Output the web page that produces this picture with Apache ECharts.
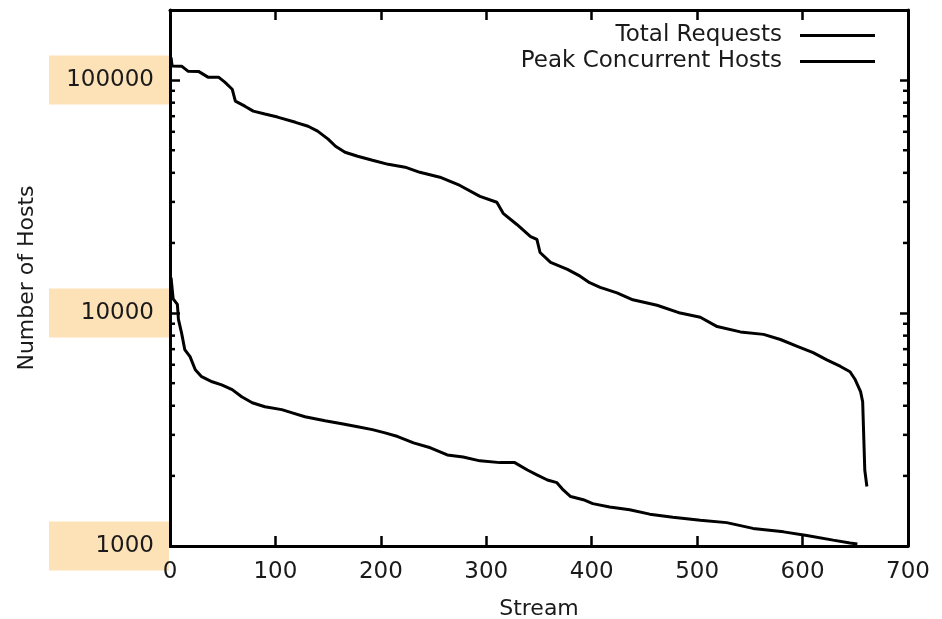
<!DOCTYPE html>
<html>
<head>
<meta charset="utf-8">
<script src="https://cdn.jsdelivr.net/npm/echarts@6/dist/echarts.min.js"></script>
<style>
  html, body { margin: 0; padding: 0; background: #fff; }
  #chart { width: 942px; height: 619px; }
</style>
</head>
<body>
<div id="chart"></div>
<script>
// ---- data ----
const totalStream = [1, 2, 11, 17, 27, 36, 46, 52, 59, 62, 71, 79, 90, 102, 119, 131, 140, 150, 157, 166, 178, 192, 207, 223, 237, 256, 275, 294, 310, 316, 329, 342, 348, 351, 361, 377, 389, 398, 408, 424, 439, 462, 484, 503, 519, 541, 563, 579, 595, 610, 623, 636, 645, 650, 655, 657, 659, 661];
const totalValues = [125000, 115000, 114800, 109300, 109000, 103000, 103000, 98000, 91400, 81200, 77300, 73600, 71500, 69400, 65900, 63400, 60400, 55800, 52000, 49000, 47100, 45300, 43500, 42300, 40200, 38300, 35300, 31700, 29900, 26800, 24000, 21300, 20700, 18200, 16500, 15400, 14400, 13500, 12900, 12200, 11400, 10800, 10000, 9600, 8750, 8300, 8100, 7700, 7200, 6760, 6300, 5900, 5600, 5170, 4600, 4160, 2120, 1800];

const peakStream = [1, 3, 7, 8, 11, 14, 19, 24, 30, 40, 49, 59, 68, 78, 90, 106, 116, 128, 147, 163, 178, 192, 204, 216, 231, 247, 263, 278, 294, 313, 327, 339, 348, 358, 367, 373, 380, 392, 401, 417, 436, 455, 477, 503, 528, 553, 582, 604, 629, 645, 652];
const peakValues = [14200, 11500, 10900, 9400, 8200, 6970, 6500, 5710, 5330, 5070, 4920, 4690, 4370, 4120, 3960, 3850, 3730, 3590, 3450, 3350, 3250, 3160, 3060, 2950, 2770, 2640, 2460, 2410, 2320, 2280, 2280, 2120, 2020, 1920, 1870, 1740, 1630, 1580, 1520, 1470, 1430, 1370, 1330, 1290, 1260, 1190, 1150, 1110, 1060, 1030, 1020];

const seriesNames = ['Total Requests', 'Peak Concurrent Hosts'];
const yTickLabels = ['1000', '10000', '100000'];
const yMinorTicks = [2000, 3000, 4000, 5000, 6000, 7000, 8000, 9000,
                     20000, 30000, 40000, 50000, 60000, 70000, 80000, 90000];
const xMin = 0, xMax = 700, xStep = 100;
const yMin = 1000, yMax = 200000;

// ---- chart ----
const FONT = 'DejaVu Sans';
const TXT = '#1a1a1a';
const chart = echarts.init(document.getElementById('chart'), null, { renderer: 'canvas' });

const lineAxis = { onZero: false, lineStyle: { color: '#000', width: 3 } };
const tickStyle = { inside: true, length: 10, lineStyle: { color: '#000', width: 2.5 } };

const option = {
  animation: false,
  backgroundColor: '#fff',
  grid: { left: 170, right: 34, top: 10, bottom: 73, containLabel: false, outerBoundsMode: 'none' },
  legend: {
    data: seriesNames.map(n => ({ name: n, icon: 'rect' })),
    orient: 'vertical',
    right: 62,
    top: 19,
    align: 'right',
    itemWidth: 75,
    itemHeight: 3,
    itemGap: 3,
    selectedMode: false,
    textStyle: { fontFamily: FONT, fontSize: 23, color: TXT, lineHeight: 23, padding: [0, 13, 0, 0] }
  },
  xAxis: [
    {
      type: 'value', min: xMin, max: xMax, interval: xStep, position: 'bottom',
      axisLine: lineAxis, axisTick: tickStyle, splitLine: { show: false },
      axisLabel: { fontFamily: FONT, fontSize: 23, color: TXT, margin: 15 },
      name: 'Stream', nameLocation: 'middle', nameGap: 52,
      nameTextStyle: { fontFamily: FONT, fontSize: 22, color: TXT }
    },
    {
      type: 'value', min: xMin, max: xMax, interval: xStep, position: 'top',
      axisLine: lineAxis, axisTick: tickStyle, splitLine: { show: false },
      axisLabel: { show: false }
    }
  ],
  yAxis: [
    {
      type: 'log', logBase: 10, min: yMin, max: yMax, position: 'left',
      axisLine: lineAxis, axisTick: tickStyle, splitLine: { show: false },
      axisLabel: {
        showMaxLabel: false,
        fontFamily: FONT, fontSize: 23, color: TXT, lineHeight: 23,
        margin: 1,
        width: 105,
        align: 'right',
        padding: [13, 15, 13, 0],
        backgroundColor: '#fde1b7',
        formatter: v => {
          const s = String(Math.round(v));
          return yTickLabels.includes(s) ? s : '';
        }
      },
      name: 'Number of Hosts', nameLocation: 'middle', nameGap: 126, nameRotate: 90,
      nameTextStyle: { fontFamily: FONT, fontSize: 22, color: TXT }
    },
    {
      type: 'log', logBase: 10, min: yMin, max: yMax, position: 'right',
      axisLine: lineAxis, axisTick: { inside: true, length: 8, lineStyle: { color: '#000', width: 2.5 } },
      splitLine: { show: false }, axisLabel: { show: false }
    }
  ],
  series: [
    {
      name: seriesNames[0], type: 'line', xAxisIndex: 0, yAxisIndex: 0,
      data: totalStream.map((s, i) => [s, totalValues[i]]),
      showSymbol: false, symbol: 'none',
      lineStyle: { color: '#000', width: 3 }, itemStyle: { color: '#000' }, z: 5
    },
    {
      name: seriesNames[1], type: 'line', xAxisIndex: 0, yAxisIndex: 0,
      data: peakStream.map((s, i) => [s, peakValues[i]]),
      showSymbol: false, symbol: 'none',
      lineStyle: { color: '#000', width: 3 }, itemStyle: { color: '#000' }, z: 5
    },
    {
      name: 'minorTicks', type: 'custom', xAxisIndex: 0, yAxisIndex: 0,
      silent: true, z: 4,
      data: yMinorTicks.map(v => [xMin, v]),
      renderItem: (params, api) => {
        const y = api.coord([xMin, api.value(1)])[1];
        const cs = params.coordSys;
        return {
          type: 'group',
          children: [
            { type: 'line', shape: { x1: cs.x, y1: y, x2: cs.x + 5, y2: y }, style: { stroke: '#000', lineWidth: 2.5 } },
            { type: 'line', shape: { x1: cs.x + cs.width - 5, y1: y, x2: cs.x + cs.width, y2: y }, style: { stroke: '#000', lineWidth: 2.5 } }
          ]
        };
      }
    }
  ]
};
chart.setOption(option);
</script>
</body>
</html>
